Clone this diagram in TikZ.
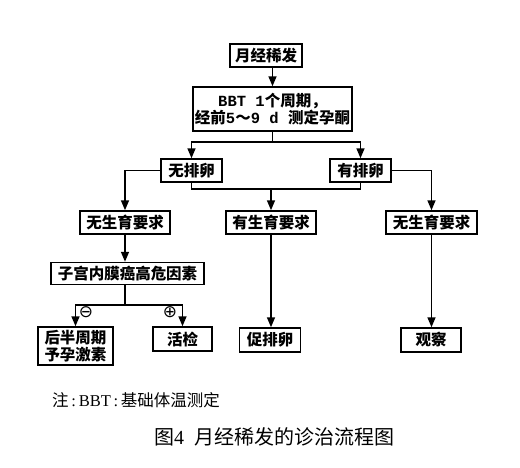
\documentclass[tikz,border=0pt]{standalone}
\usepackage{fontspec}
\usetikzlibrary{arrows.meta}
\setmainfont{Liberation Serif}
\newfontfamily\cjk{Noto Sans CJK SC}
\newfontfamily\monofnt{Liberation Mono}
\newfontfamily\symfnt{DejaVu Sans}
\begin{document}
\begin{tikzpicture}[x=1pt,y=-1pt,
  box/.style={draw, line width=1.5pt, inner sep=0pt, font=\fontsize{15.5}{17.5}\cjk\bfseries, align=center},
  ln/.style={line width=1.5pt},
  arr/.style={line width=1.5pt, -{Triangle[length=10pt,width=8pt]}},
  sign/.style={font=\fontsize{17}{17}\symfnt, inner sep=0pt}]
\useasboundingbox (0,0) rectangle (520,467);
% nodes
\node[box, minimum width=72pt, minimum height=23pt] (b1) at (266,55.5) {月经稀发};
\node[box, minimum width=159pt, minimum height=44pt] (b2) at (272.5,109)
  {{\monofnt\bfseries BBT 1}个周期，\\经前{\monofnt\bfseries 5}～{\monofnt\bfseries 9 d }测定孕酮};
\node[box, minimum width=61pt, minimum height=23pt] (nov) at (191.5,170.5) {无排卵};
\node[box, minimum width=61pt, minimum height=23pt] (ov) at (360.5,170.5) {有排卵};
\node[box, minimum width=90pt, minimum height=23pt] (nfl) at (125,222.5) {无生育要求};
\node[box, minimum width=90pt, minimum height=23pt] (yf) at (271,222.5) {有生育要求};
\node[box, minimum width=91pt, minimum height=23pt] (nfr) at (431.5,222.5) {无生育要求};
\node[box, minimum width=153pt, minimum height=22pt] (risk) at (127.5,273.5) {子宫内膜癌高危因素};
\node[box, minimum width=75pt, minimum height=38pt] (prog) at (75.5,346) {后半周期\\予孕激素};
\node[box, minimum width=59pt, minimum height=24pt] (bio) at (182.5,339) {活检};
\node[box, minimum width=61pt, minimum height=24pt] (ind) at (270,340) {促排卵};
\node[box, minimum width=60pt, minimum height=24pt] (obs) at (431,340) {观察};
% junction coordinates
\coordinate (j1) at (272.5,142);
\coordinate (j2) at (271,189);
\coordinate (j3) at (125,305);
% connectors
\draw[arr] (b1.south -| b2.north) -- (b2.north);
\draw[ln] (b2.south) -- (j1);
\draw[arr] (j1) -| (nov.north);
\draw[arr] (j1) -| (ov.north);
\draw[arr] (nov.west) -| (nfl.north);
\draw[arr] (ov.east) -| (nfr.north);
\draw[ln] (nov.south) |- (j2) -| (ov.south);
\draw[arr] (j2) -- (yf.north);
\draw[arr] (nfl.south) -- (risk.north -| nfl.south);
\draw[ln] (risk.south -| j3) -- (j3);
\draw[arr] (j3) -| (prog.north);
\draw[arr] (j3) -| (bio.north);
\draw[arr] (yf.south) -- (ind.north -| yf.south);
\draw[arr] (nfr.south) -- (obs.north -| nfr.south);
% signs
\node[sign] (minus) at (86,312) {⊖};
\node[sign] (plus) at (170,312) {⊕};
% note and caption
\node[anchor=west, inner sep=0pt, font=\fontsize{16.5}{16.5}\selectfont] (note) at (52,400) {{\cjk 注}\,:\,BBT\,:\,{\cjk 基础体温测定}};
\node[inner sep=0pt, font=\fontsize{20}{20}\selectfont] (cap) at (274,437) {{\cjk 图}4\ \ {\cjk 月经稀发的诊治流程图}};
\end{tikzpicture}
\end{document}
